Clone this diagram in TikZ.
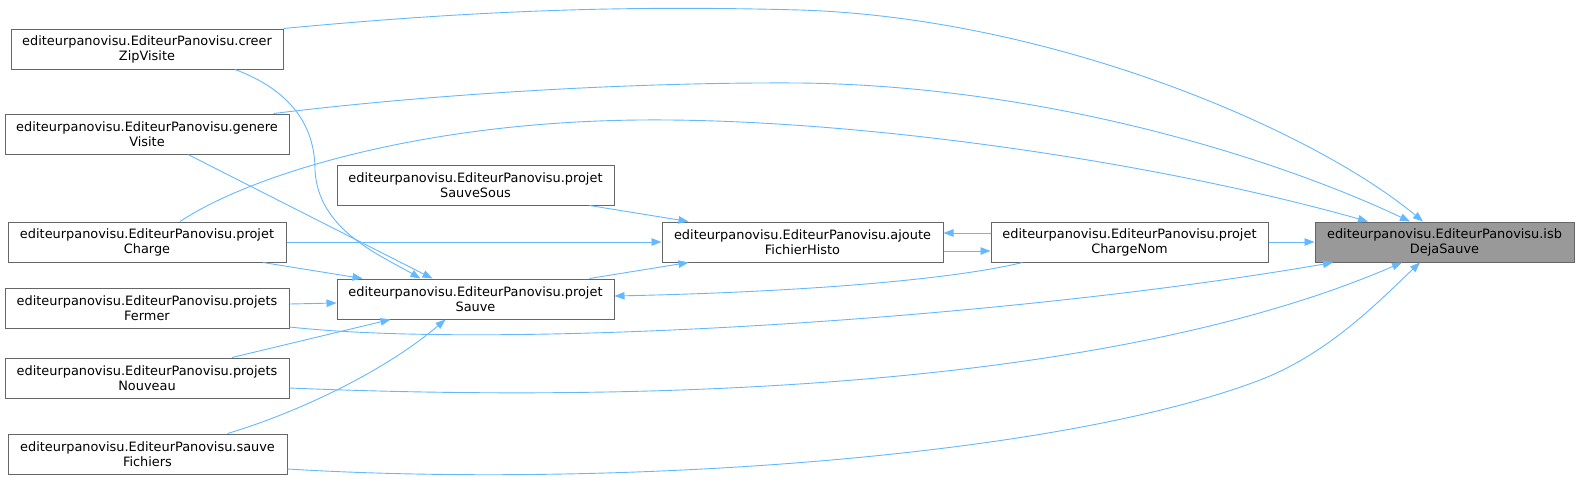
\documentclass[tikz,border=0pt]{standalone}
\usepackage{fontspec}
\setmainfont{DejaVu Sans}
\usetikzlibrary{arrows.meta,calc}
\definecolor{edgec}{HTML}{63B8FF}
\definecolor{bordc}{HTML}{666666}
\definecolor{hlfill}{HTML}{999999}
\begin{document}
\begin{tikzpicture}[x=1pt,y=-1pt,
  fn/.style={draw=bordc,line width=1pt,fill=white,minimum height=40pt,inner sep=0pt,align=center,font=\fontsize{12.9}{15}\selectfont},
  hl/.style={fn,fill=hlfill},
  cedge/.style={draw=edgec,line width=0.9pt,-{Triangle[length=10pt,width=7.5pt]}}]
\useasboundingbox (0,0) rectangle (1580,485);
% nodes
\node[fn,minimum width=272pt] (creer) at (147,49) {editeurpanovisu.EditeurPanovisu.creer\\ZipVisite};
\node[fn,minimum width=284pt] (genere) at (147,134) {editeurpanovisu.EditeurPanovisu.genere\\Visite};
\node[fn,minimum width=277pt] (sauvesous) at (475.5,185) {editeurpanovisu.EditeurPanovisu.projet\\SauveSous};
\node[fn,minimum width=278pt] (charge) at (147,242) {editeurpanovisu.EditeurPanovisu.projet\\Charge};
\node[fn,minimum width=284pt] (fermer) at (147,308) {editeurpanovisu.EditeurPanovisu.projets\\Fermer};
\node[fn,minimum width=284pt] (nouveau) at (147,378) {editeurpanovisu.EditeurPanovisu.projets\\Nouveau};
\node[fn,minimum width=279pt] (fichiers) at (147.5,454) {editeurpanovisu.EditeurPanovisu.sauve\\Fichiers};
\node[fn,minimum width=277pt] (sauve) at (475.5,299) {editeurpanovisu.EditeurPanovisu.projet\\Sauve};
\node[fn,minimum width=281pt] (ajoute) at (802.5,242) {editeurpanovisu.EditeurPanovisu.ajoute\\FichierHisto};
\node[fn,minimum width=277pt] (chargenom) at (1129.5,242) {editeurpanovisu.EditeurPanovisu.projet\\ChargeNom};
\node[hl,minimum width=259pt] (isb) at (1444.5,242) {editeurpanovisu.EditeurPanovisu.isb\\DejaSauve};
% edges to isb
\draw[cedge] (creer.north east) .. controls (500,8) and (650,6) .. (800,10)
  .. controls (1050,18) and (1310,128) .. ($(isb.north)+(-21.5,0)$);
\draw[cedge] ($(genere.north east)+(-16,0)$) .. controls (450,92) and (650,82) .. (800,83)
  .. controls (1050,86) and (1280,160) .. ($(isb.north)+(-34.5,0)$);
\draw[cedge] ($(charge.north)+(33,0)$) .. controls (250,175) and (420,122) .. (640,120)
  .. controls (850,118) and (1150,160) .. ($(isb.north)+(-76.5,0)$);
\draw[cedge] (chargenom.east) -- (isb.west);
\draw[cedge] ($(fermer.east)+(0,19)$) .. controls (500,350) and (1000,320) .. ($(isb.south)+(-111.5,0)$);
\draw[cedge] ($(nouveau.east)+(0,10)$) .. controls (700,405) and (1130,380) .. ($(isb.south)+(-42.5,0)$);
\draw[cedge] ($(fichiers.east)+(0,15)$) .. controls (600,488) and (1050,460) .. (1260,380)
  .. controls (1330,353) and (1380,300) .. ($(isb.south)+(-24.5,0)$);
% edges to projetSauve
\draw[cedge] ($(creer.south)+(88,0)$) .. controls (290,90) and (315,125) .. (315,170)
  .. controls (318,230) and (380,255) .. ($(sauve.north)+(-55,0)$);
\draw[cedge] ($(genere.south)+(41,0)$) -- ($(sauve.north)+(-43,0)$);
\draw[cedge] ($(charge.south)+(116,0)$) -- ($(sauve.north)+(-113,0)$);
\draw[cedge] ($(fermer.east)+(0,-4)$) -- ($(sauve.west)+(0,4)$);
\draw[cedge] ($(nouveau.north)+(85,0)$) -- ($(sauve.south)+(-85,0)$);
\draw[cedge] ($(fichiers.north)+(80,0)$) .. controls (290,415) and (380,375) .. ($(sauve.south)+(-30,0)$);
\draw[cedge] ($(chargenom.south)+(-107,0)$) .. controls (950,280) and (800,292) .. ($(sauve.east)+(0,-3)$);
% edges to ajouteFichierHisto
\draw[cedge] ($(sauvesous.south)+(114,0)$) -- ($(ajoute.north)+(-114,0)$);
\draw[cedge] ($(sauve.north)+(114,0)$) -- ($(ajoute.south)+(-114,0)$);
\draw[cedge] (charge.east) -- (ajoute.west);
\draw[cedge] ($(chargenom.west)+(0,-9)$) -- ($(ajoute.east)+(0,-9)$);
\draw[cedge] ($(ajoute.east)+(0,9)$) -- ($(chargenom.west)+(0,9)$);
\end{tikzpicture}
\end{document}
